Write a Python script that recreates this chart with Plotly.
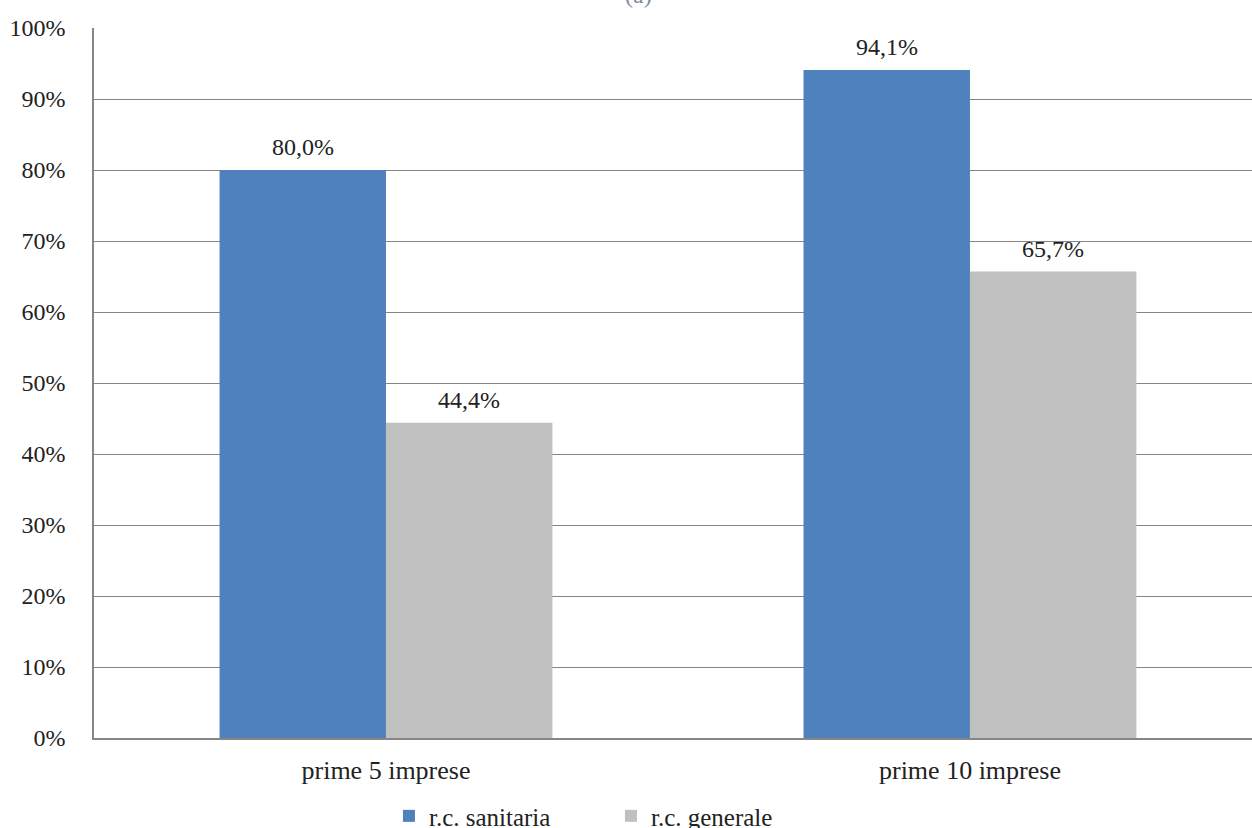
import plotly.graph_objects as go

categories = ["prime 5 imprese", "prime 10 imprese"]
sanitaria = [80.0, 94.1]
generale = [44.4, 65.7]
series_names = ["r.c. sanitaria", "r.c. generale"]
y_ticks = [0, 10, 20, 30, 40, 50, 60, 70, 80, 90, 100]


def fmt(v):
    return f"{v:.1f}%".replace(".", ",")


FONT = "Liberation Serif, serif"
TXT = "#222222"
GRID = "#868686"
BLUE = "#4F81BD"
GRAY = "#C0C0C0"

fig = go.Figure()
fig.add_trace(go.Bar(
    x=categories, y=sanitaria, name=series_names[0],
    marker=dict(color=BLUE, line=dict(width=0)),
    offsetgroup="a",
))
fig.add_trace(go.Bar(
    x=categories, y=generale, name=series_names[1],
    marker=dict(color=GRAY, line=dict(width=0)),
    offsetgroup="b",
))

# value labels above each bar (bars are 0.285 category units wide, grouped side by side)
half = 0.285 / 2
for i, cat in enumerate(categories):
    for vals, dx in ((sanitaria, -half), (generale, half)):
        fig.add_annotation(
            x=i + dx, y=vals[i], xref="x", yref="y",
            text=fmt(vals[i]), showarrow=False,
            xanchor="center", yanchor="bottom", yshift=8,
            font=dict(family=FONT, size=24, color=TXT),
        )

fig.add_annotation(
    text="(a)", x=0.47, y=1.047, xref="paper", yref="paper",
    showarrow=False, font=dict(family=FONT, size=24, color="#7f8aa0"),
    xanchor="center", yanchor="middle",
)

fig.update_layout(
    width=1252, height=828,
    margin=dict(l=94, r=0, t=28, b=90, autoexpand=False),
    paper_bgcolor="white", plot_bgcolor="white",
    barmode="group", bargap=0.43, bargroupgap=0,
    font=dict(family=FONT, size=24, color=TXT),
    showlegend=True,
    legend=dict(
        orientation="h", x=0.2547, xanchor="left", y=-0.11, yanchor="middle",
        font=dict(family=FONT, size=25, color=TXT),
        itemwidth=30, entrywidth=177, entrywidthmode="pixels",
        traceorder="normal", bgcolor="rgba(0,0,0,0)",
    ),
    xaxis=dict(
        range=[-0.5, 1.483], showgrid=False, ticks="",
        showline=True, linecolor=GRID, linewidth=1.5,
        tickfont=dict(family=FONT, size=26, color=TXT),
        ticklabelstandoff=8,
    ),
    yaxis=dict(
        range=[0, 100], tickvals=y_ticks,
        ticktext=[f"{v}%" for v in y_ticks],
        showgrid=True, gridcolor=GRID, gridwidth=1.2,
        showline=True, linecolor=GRID, linewidth=1.5,
        zeroline=False, ticks="",
        tickfont=dict(family=FONT, size=24, color=TXT),
        ticklabelstandoff=22,
    ),
)

fig.write_html("out.html")
